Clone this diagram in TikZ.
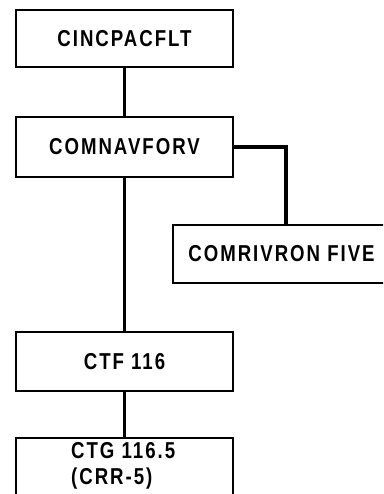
\documentclass[tikz,border=0pt]{standalone}
\usepackage{fontspec}
\newfontfamily\boxfont{Liberation Sans}[FakeStretch=0.81,LetterSpace=8.6]
\begin{document}
\begin{tikzpicture}[x=1pt,y=-1pt,
  orgbox/.style={draw=black,line width=2.2pt,rectangle,minimum width=217pt,inner sep=0pt,
    font=\boxfont\bfseries\fontsize{23}{26}\selectfont},
  link/.style={draw=black,line width=3.5pt}]
\useasboundingbox (0,0) rectangle (383,494);
\clip (0,0) rectangle (383,494);
\node (cinc) [orgbox,minimum height=57pt] at (124.5,38.5) {CINCPACFLT};
\node (comnav) [orgbox,minimum height=60pt] at (124.5,147) {COMNAVFORV};
\node (comriv) [orgbox,minimum height=58pt] at (281.5,254) {COMRIVRON FIVE};
\node (ctf) [orgbox,minimum height=59pt] at (124.5,361.5) {CTF 116};
\node (ctg) [orgbox,minimum height=80pt,anchor=north] at (124.5,437) {};
\node (ctgtext) [anchor=north west,align=left,inner sep=0pt,
  font=\boxfont\bfseries\fontsize{23}{26}\selectfont] at (71,442) {CTG 116.5\\(CRR-5)};
\draw[link] (cinc.south) -- (comnav.north);
\draw[link] (comnav.east) -| ([xshift=4.5pt]comriv.north);
\draw[link] (comnav.south) -- (ctf.north);
\draw[link] (ctf.south) -- (ctg.north);
\end{tikzpicture}
\end{document}
